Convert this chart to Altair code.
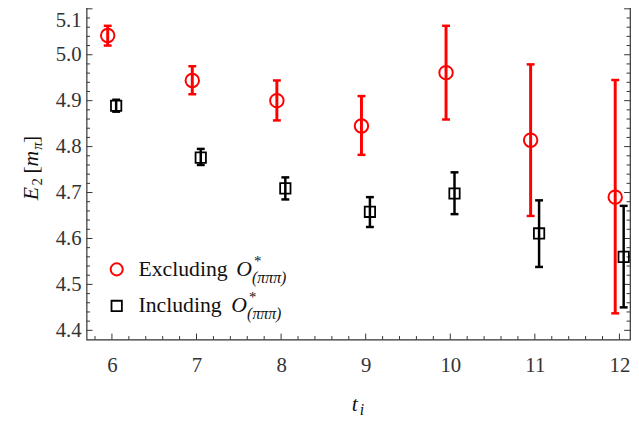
import altair as alt
import numpy as np
import pandas as pd

# ---- data ----
t = [6, 7, 8, 9, 10, 11, 12]
excl_val = [5.042, 4.944, 4.900, 4.845, 4.961, 4.814, 4.690]
excl_lo = [5.020, 4.914, 4.857, 4.782, 4.859, 4.649, 4.437]
excl_hi = [5.063, 4.975, 4.944, 4.910, 5.063, 4.979, 4.945]
incl_val = [4.889, 4.776, 4.709, 4.658, 4.698, 4.611, 4.560]
incl_lo = [4.876, 4.760, 4.685, 4.625, 4.653, 4.538, 4.450]
incl_hi = [4.902, 4.795, 4.733, 4.690, 4.744, 4.683, 4.671]
OFF_EXCL, OFF_INCL = -0.05, 0.05

x_major = [6, 7, 8, 9, 10, 11, 12]
y_major = [4.4, 4.5, 4.6, 4.7, 4.8, 4.9, 5.0, 5.1]
x_minor = [round(v, 1) for v in np.arange(5.8, 12.11, 0.2) if abs(v - round(v)) > 1e-6]
y_minor = [round(v, 2) for v in np.arange(4.40, 5.111, 0.02)
           if abs(v * 10 - round(v * 10)) > 1e-6]

W, H = 550, 344
X_DOMAIN = [5.7, 12.125]
Y_DOMAIN = [4.38, 5.12]
RED, BLACK, AX = "#ff0000", "#000000", "#333333"
FONT = "'Liberation Serif', 'Times New Roman', 'DejaVu Serif', serif"

xs = alt.Scale(domain=X_DOMAIN, nice=False, zero=False)
ys = alt.Scale(domain=Y_DOMAIN, nice=False, zero=False)
ax_x = alt.Axis(values=x_major, ticks=False, domain=False, grid=False,
                labelPadding=15, title=None, format="d")
ax_y = alt.Axis(values=y_major, ticks=False, domain=False, grid=False,
                labelPadding=5.5, title=None, format=".1f",
                labelOffset=alt.condition("datum.value > 5.05", alt.value(12), alt.value(0)))


def X(f):
    return alt.X(f"{f}:Q", scale=xs, axis=ax_x)


def Y(f):
    return alt.Y(f"{f}:Q", scale=ys, axis=ax_y)


red = pd.DataFrame({"x": np.array(t) + OFF_EXCL, "v": excl_val, "lo": excl_lo, "hi": excl_hi})
blk = pd.DataFrame({"x": np.array(t) + OFF_INCL, "v": incl_val, "lo": incl_lo, "hi": incl_hi})

layers = []

# frame ticks (inward)
for vals, L in ((x_major, 6), (x_minor, 3.5)):
    d = pd.DataFrame({"v": vals})
    layers.append(alt.Chart(d).mark_rule(color=AX, strokeWidth=1).encode(
        x=X("v"), y=alt.value(H), y2=alt.value(H - L)))
    layers.append(alt.Chart(d).mark_rule(color=AX, strokeWidth=1).encode(
        x=X("v"), y=alt.value(0), y2=alt.value(L)))
for vals, L in ((y_major, 6), (y_minor, 3.5)):
    d = pd.DataFrame({"v": vals})
    layers.append(alt.Chart(d).mark_rule(color=AX, strokeWidth=1).encode(
        y=Y("v"), x=alt.value(0), x2=alt.value(L)))
    layers.append(alt.Chart(d).mark_rule(color=AX, strokeWidth=1).encode(
        y=Y("v"), x=alt.value(W), x2=alt.value(W - L)))

# error bars, caps, markers
for df, col, sw, shape, size, msw in ((red, RED, 3, "circle", 185, 2.0),
                                       (blk, BLACK, 2.5, "square", 110, 1.8)):
    layers.append(alt.Chart(df).mark_rule(color=col, strokeWidth=sw).encode(
        x=X("x"), y=Y("lo"), y2="hi"))
    for f in ("lo", "hi"):
        layers.append(alt.Chart(df).mark_tick(color=col, orient="horizontal", size=8,
                                              thickness=2.5, opacity=1).encode(
            x=X("x"), y=Y(f)))
    layers.append(alt.Chart(df).mark_point(shape=shape, filled=False, size=size,
                                           strokeWidth=msw, color=col, opacity=1).encode(
        x=X("x"), y=Y("v")))

one = pd.DataFrame({"k": [0]})


def txt(s, x, y, size, italic=False, angle=0, color="#111111"):
    kw = dict(align="left", baseline="alphabetic", font=FONT, fontSize=size, color=color)
    if italic:
        kw["fontStyle"] = "italic"
    if angle:
        kw["angle"] = angle
    return alt.Chart(one).mark_text(**kw).encode(
        x=alt.value(x), y=alt.value(y), text=alt.value(s))


# legend
layers.append(alt.Chart(one).mark_point(shape="circle", filled=False, size=150,
                                        strokeWidth=2, color=RED, opacity=1).encode(
    x=alt.value(30.5), y=alt.value(273)))
layers.append(alt.Chart(one).mark_point(shape="square", filled=False, size=110,
                                        strokeWidth=1.8, color=BLACK, opacity=1).encode(
    x=alt.value(30.5), y=alt.value(310)))
for row_y, word, ox in ((280, "Excluding", 151.5), (316, "Including", 146.5)):
    layers.append(txt(word, 52.5, row_y, 22))
    layers.append(txt("O", ox, row_y, 22, italic=True))
    layers.append(txt("*", ox + 18, row_y - 10, 15))
    layers.append(txt("(πππ)", ox + 16, row_y + 7, 16, italic=True))

# x title  t_i
layers.append(txt("t", 268.5, 416, 22, italic=True))
layers.append(txt("i", 276.5, 420, 16, italic=True))

# y title  E_2 [m_pi]  (rotated)
TX = -49.5
layers.append(txt("E", TX, 203, 22, italic=True, angle=270))
layers.append(txt("2", TX + 4, 188, 15, angle=270))
layers.append(txt("[", TX, 176, 22, angle=270))
layers.append(txt("m", TX, 169, 22, italic=True, angle=270))
layers.append(txt("π", TX + 4, 152, 15, italic=True, angle=270))
layers.append(txt("]", TX, 145, 22, angle=270))

chart = alt.layer(*layers).properties(
    width=W, height=H,
    padding={"left": 79.5, "top": -11, "right": 1, "bottom": 85},
    autosize=alt.AutoSizeParams(type="none"),
).configure_view(stroke=AX, strokeWidth=1.2).configure_axis(
    labelFont=FONT, labelFontSize=21, labelColor=AX)

chart.save("out.html", embed_options={"renderer": "svg", "actions": False})
